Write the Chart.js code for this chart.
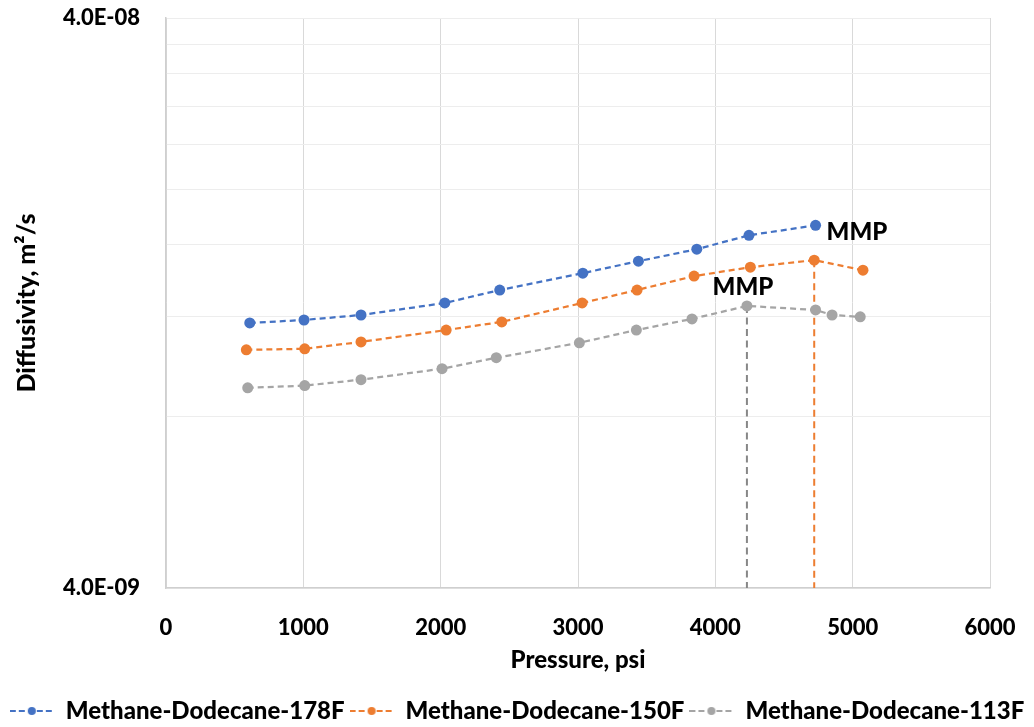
<!DOCTYPE html>
<html>
<head>
<meta charset="utf-8">
<script src="https://cdn.jsdelivr.net/npm/chart.js@4.4.1/dist/chart.umd.min.js"></script>
<style>
  html, body { margin: 0; padding: 0; background: #ffffff; }
  #wrap { width: 1034px; height: 727px; position: relative; }
</style>
</head>
<body>
<div id="wrap"><canvas id="chart"></canvas></div>
<script>
// Pressure (psi) and diffusivity (m²/s) for each temperature
const pressure178 = [610, 1005, 1420, 2030, 2430, 3035, 3440, 3865, 4245, 4730];
const diff178 = [1.167e-8, 1.181e-8, 1.205e-8, 1.265e-8, 1.333e-8, 1.427e-8, 1.498e-8, 1.572e-8, 1.663e-8, 1.731e-8];

const pressure150 = [585, 1010, 1420, 2040, 2445, 3030, 3430, 3845, 4255, 4720, 5075];
const diff150 = [1.047e-8, 1.051e-8, 1.081e-8, 1.134e-8, 1.172e-8, 1.265e-8, 1.333e-8, 1.410e-8, 1.462e-8, 1.504e-8, 1.444e-8];

const pressure113 = [595, 1010, 1420, 2010, 2405, 3010, 3425, 3830, 4230, 4730, 4850, 5055];
const diff113 = [8.98e-9, 9.06e-9, 9.28e-9, 9.70e-9, 1.014e-8, 1.077e-8, 1.134e-8, 1.186e-8, 1.250e-8, 1.230e-8, 1.205e-8, 1.196e-8];

const seriesNames = ['Methane-Dodecane-178F', 'Methane-Dodecane-150F', 'Methane-Dodecane-113F'];

// MMP markers: 113F and 150F
const mmpPressure = [4230, 4720];
const mmpDiffusivity = [1.250e-8, 1.504e-8];
const mmpText = 'MMP';

// Log axis: grid at every 4E-09 step, labels only at the ends
const yGridValues = [4e-9, 8e-9, 1.2e-8, 1.6e-8, 2e-8, 2.4e-8, 2.8e-8, 3.2e-8, 3.6e-8, 4e-8];
const yLabelValues = [4e-9, 4e-8];
const xTickStep = 1000;
const xMin = 0, xMax = 6000;

const BLUE = '#4472C4', ORANGE = '#ED7D31', GRAY = '#A5A5A5', DARKGRAY = '#878787';
const FONT = 'Lato, "Open Sans", sans-serif';
const WEIGHT = '900';

function toPoints(xs, ys) { return xs.map((x, i) => ({ x: x, y: ys[i] })); }

function sciLabel(v) {
  return v.toExponential(1).toUpperCase().replace(/E([+-])(\d)$/, 'E$10$2');
}

// Small "--●--" icon used in the legend
function legendIcon(color) {
  const c = document.createElement('canvas');
  c.width = 44; c.height = 12;
  const g = c.getContext('2d');
  g.strokeStyle = color; g.lineWidth = 2;
  g.setLineDash([6, 3]);
  g.beginPath(); g.moveTo(0, 6); g.lineTo(44, 6); g.stroke();
  g.fillStyle = color;
  g.beginPath(); g.arc(22, 6, 4, 0, Math.PI * 2); g.fill();
  return c;
}

function seriesDataset(label, xs, ys, color, order) {
  return {
    label: label,
    data: toPoints(xs, ys),
    borderColor: color,
    backgroundColor: color,
    borderWidth: 2.25,
    borderDash: [6, 4],
    pointRadius: 5.5,
    pointHoverRadius: 5.5,
    pointBorderWidth: 0,
    pointBackgroundColor: color,
    tension: 0,
    order: order
  };
}

function dropLine(p, d, color) {
  return {
    label: '_drop',
    data: [{ x: p, y: d }, { x: p, y: yGridValues[0] }],
    borderColor: color,
    borderWidth: 2,
    borderDash: [7, 4.5],
    pointRadius: 0,
    tension: 0,
    order: 10
  };
}

// "MMP" captions next to the marked points
const mmpLabels = {
  id: 'mmpLabels',
  afterDatasetsDraw(chart) {
    const { ctx, scales: { x, y } } = chart;
    ctx.save();
    ctx.fillStyle = '#000000';
    ctx.font = WEIGHT + ' 24px ' + FONT;
    ctx.textBaseline = 'alphabetic';
    // beside the end of the 178F curve
    const lastP = pressure178[pressure178.length - 1];
    const lastD = diff178[diff178.length - 1];
    ctx.textAlign = 'left';
    ctx.fillText(mmpText, x.getPixelForValue(lastP) + 11, y.getPixelForValue(lastD) + 15);
    // above the 113F MMP point
    ctx.textAlign = 'center';
    ctx.fillText(mmpText, x.getPixelForValue(mmpPressure[0]) - 4, y.getPixelForValue(mmpDiffusivity[0]) - 11);
    ctx.restore();
  }
};

const chart = new Chart(document.getElementById('chart'), {
  type: 'line',
  data: {
    datasets: [
      seriesDataset(seriesNames[0], pressure178, diff178, BLUE, 1),
      seriesDataset(seriesNames[1], pressure150, diff150, ORANGE, 2),
      seriesDataset(seriesNames[2], pressure113, diff113, GRAY, 3),
      dropLine(mmpPressure[0], mmpDiffusivity[0], DARKGRAY),
      dropLine(mmpPressure[1], mmpDiffusivity[1], ORANGE)
    ]
  },
  options: {
    responsive: true,
    maintainAspectRatio: false,
    animation: false,
    events: [],
    layout: { padding: { top: 18, right: 0, bottom: -6, left: 0 } },
    scales: {
      x: {
        type: 'linear',
        min: xMin, max: xMax,
        afterFit(scale) {
          scale.height = 106;
          scale.paddingRight = 44;
        },
        ticks: {
          stepSize: xTickStep,
          color: '#000000',
          padding: 27,
          font: { family: FONT, size: 22, weight: WEIGHT },
          callback(value) { return String(value); }
        },
        grid: { color: '#D9D9D9', lineWidth: 1, drawTicks: false },
        border: { color: '#CFCFCF', width: 1.5 },
        title: {
          display: true,
          text: 'Pressure, psi',
          color: '#000000',
          font: { family: FONT, size: 24, weight: WEIGHT },
          padding: { top: 0, bottom: 19 }
        }
      },
      y: {
        type: 'logarithmic',
        min: yGridValues[0], max: yGridValues[yGridValues.length - 1],
        afterFit(scale) {
          scale.width = 166;
          scale.paddingTop = 0;
          scale.paddingBottom = 0;
        },
        afterBuildTicks(scale) { scale.ticks = yGridValues.map(v => ({ value: v })); },
        ticks: {
          autoSkip: false,
          color: '#000000',
          padding: 26,
          font: { family: FONT, size: 22, weight: WEIGHT },
          callback(value) {
            return yLabelValues.some(v => Math.abs(v - value) / v < 1e-6) ? sciLabel(value) : '';
          }
        },
        grid: { color: '#EDEDED', lineWidth: 1, drawTicks: false },
        border: { color: '#CFCFCF', width: 1.5 },
        title: {
          display: true,
          text: 'Diffusivity, m²/s',
          color: '#000000',
          font: { family: FONT, size: 25, weight: WEIGHT },
          padding: { top: 12, bottom: 0 }
        }
      }
    },
    plugins: {
      tooltip: { enabled: false },
      legend: {
        position: 'bottom',
        labels: {
          usePointStyle: true,
          pointStyleWidth: 44,
          padding: 5,
          color: '#000000',
          font: { family: FONT, size: 24, weight: WEIGHT },
          filter: item => item.text !== '_drop',
          generateLabels(chart) {
            const items = Chart.defaults.plugins.legend.labels.generateLabels(chart);
            items.forEach(it => {
              const ds = chart.data.datasets[it.datasetIndex];
              it.pointStyle = legendIcon(ds.borderColor);
              it.lineDash = [];
            });
            return items;
          }
        }
      }
    }
  },
  plugins: [mmpLabels]
});
</script>
</body>
</html>
